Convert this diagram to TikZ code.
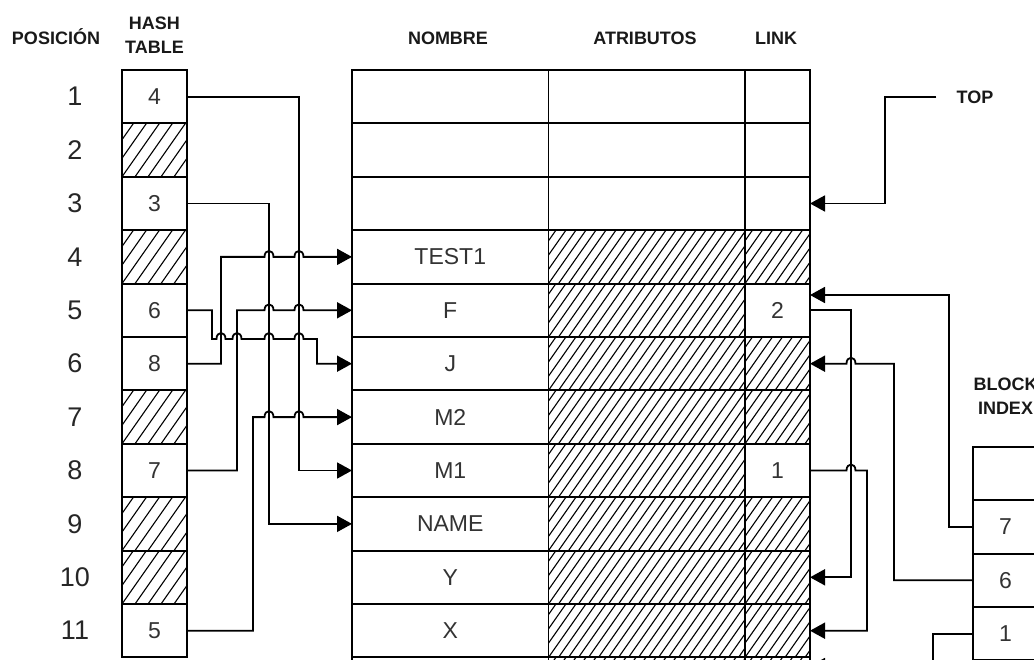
\documentclass[tikz,border=0pt]{standalone}
\usepackage{fontspec}
\setmainfont{Liberation Sans}
\usetikzlibrary{arrows.meta}
\usetikzlibrary{positioning,calc}

\tikzset{
  celda/.style={draw, line width=1.9pt, inner sep=0pt, outer sep=0pt, minimum height=53.4pt, font=\fontsize{23}{25}\selectfont, text=black!80},
  angosta/.style={celda, minimum width=65pt},
  ancha/.style={celda, minimum width=196.5pt},
  rayado/.style={path picture={\foreach \k in {-5,...,22} \draw[line width=1.1pt] ([xshift=\k*#1]path picture bounding box.south west) -- ++(57.4,-81.9);}},
  titulo/.style={font=\bfseries\fontsize{18}{24}\selectfont, align=center, inner sep=0pt, text=black!90},
  posic/.style={font=\fontsize{27}{30}\selectfont, inner sep=0pt, text=black!85},
  flecha/.style={line width=1.8pt, -{Triangle[length=15pt,width=16pt]}},
  flechai/.style={line width=1.8pt, {Triangle[length=15pt,width=16pt]}-}
}
% salto de una linea horizontal sobre una vertical
\newcommand{\salto}[2]{-- ($(#1 |- #2)+(-4.5,0)$) .. controls ($(#1 |- #2)+(-4.5,-8)$) and ($(#1 |- #2)+(4.5,-8)$) .. ($(#1 |- #2)+(4.5,0)$)}

\begin{document}
\begin{tikzpicture}[x=1pt,y=-1pt]
\useasboundingbox (0,0) rectangle (1034,660);
\clip (0,0) rectangle (1034,660);
% encabezados
\node[titulo, anchor=base] (tpos) at (56,44.5) {POSICIÓN}; %etiqueta de posicion
\node[titulo] (thash) at (154.5,35) {HASH\\TABLE}; %etiqueta de la tabla hash
\node[titulo, anchor=base] (tnom) at (448,44.5) {NOMBRE}; %columna nombre
\node[titulo, anchor=base] (tatr) at (645,44.5) {ATRIBUTOS}; %columna atributos
\node[titulo, anchor=base] (tlink) at (776,44.5) {LINK}; %columna link
\node[titulo] (ttop) at (975,97) {TOP}; %etiqueta de top
\node[titulo] (tblock) at (1005.5,396) {BLOCK\\INDEX}; %etiqueta del block index

% tabla hash
\node[angosta] (h1) at (154.5,96.7) {4}; %posicion 1
\node[angosta, rayado=13pt, below=0pt of h1] (h2) {}; %posicion 2
\node[angosta, below=0pt of h2] (h3) {3}; %posicion 3
\node[angosta, rayado=13pt, below=0pt of h3] (h4) {}; %posicion 4
\node[angosta, below=0pt of h4] (h5) {6}; %posicion 5
\node[angosta, below=0pt of h5] (h6) {8}; %posicion 6
\node[angosta, rayado=13pt, below=0pt of h6] (h7) {}; %posicion 7
\node[angosta, below=0pt of h7] (h8) {7}; %posicion 8
\node[angosta, rayado=13pt, below=0pt of h8] (h9) {}; %posicion 9
\node[angosta, rayado=13pt, below=0pt of h9] (h10) {}; %posicion 10
\node[angosta, below=0pt of h10] (h11) {5}; %posicion 11

% numeros de posicion
\coordinate (px) at (75,0);
\node[posic] (p1) at (h1 -| px) {1};
\node[posic] (p2) at (h2 -| px) {2};
\node[posic] (p3) at (h3 -| px) {3};
\node[posic] (p4) at (h4 -| px) {4};
\node[posic] (p5) at (h5 -| px) {5};
\node[posic] (p6) at (h6 -| px) {6};
\node[posic] (p7) at (h7 -| px) {7};
\node[posic] (p8) at (h8 -| px) {8};
\node[posic] (p9) at (h9 -| px) {9};
\node[posic] (p10) at (h10 -| px) {10};
\node[posic] (p11) at (h11 -| px) {11};

% tabla de simbolos
\node[ancha] (n1) at (450.25,96.7) {}; \node[ancha, right=0pt of n1] (a1) {}; \node[angosta, right=0pt of a1] (l1) {}; %fila 1
\node[ancha, below=0pt of n1] (n2) {}; \node[ancha, right=0pt of n2] (a2) {}; \node[angosta, right=0pt of a2] (l2) {}; %fila 2
\node[ancha, below=0pt of n2] (n3) {}; \node[ancha, right=0pt of n3] (a3) {}; \node[angosta, right=0pt of a3] (l3) {}; %fila 3
\node[ancha, below=0pt of n3] (n4) {TEST1}; \node[ancha, rayado=10pt, right=0pt of n4] (a4) {}; \node[angosta, rayado=10pt, right=0pt of a4] (l4) {}; %fila 4
\node[ancha, below=0pt of n4] (n5) {F}; \node[ancha, rayado=10pt, right=0pt of n5] (a5) {}; \node[angosta, right=0pt of a5] (l5) {2}; %fila 5
\node[ancha, below=0pt of n5] (n6) {J}; \node[ancha, rayado=10pt, right=0pt of n6] (a6) {}; \node[angosta, rayado=10pt, right=0pt of a6] (l6) {}; %fila 6
\node[ancha, below=0pt of n6] (n7) {M2}; \node[ancha, rayado=10pt, right=0pt of n7] (a7) {}; \node[angosta, rayado=10pt, right=0pt of a7] (l7) {}; %fila 7
\node[ancha, below=0pt of n7] (n8) {M1}; \node[ancha, rayado=10pt, right=0pt of n8] (a8) {}; \node[angosta, right=0pt of a8] (l8) {1}; %fila 8
\node[ancha, below=0pt of n8] (n9) {NAME}; \node[ancha, rayado=10pt, right=0pt of n9] (a9) {}; \node[angosta, rayado=10pt, right=0pt of a9] (l9) {}; %fila 9
\node[ancha, below=0pt of n9] (n10) {Y}; \node[ancha, rayado=10pt, right=0pt of n10] (a10) {}; \node[angosta, rayado=10pt, right=0pt of a10] (l10) {}; %fila 10
\node[ancha, below=0pt of n10] (n11) {X}; \node[ancha, rayado=10pt, right=0pt of n11] (a11) {}; \node[angosta, rayado=10pt, right=0pt of a11] (l11) {}; %fila 11
\node[ancha, below=0pt of n11] (n12) {}; \node[ancha, rayado=10pt, right=0pt of n12] (a12) {}; \node[angosta, rayado=10pt, right=0pt of a12] (l12) {}; %fila 12

% block index
\node[angosta] (b1) at (1005.5,473.5) {};
\node[angosta, below=0pt of b1] (b2) {7};
\node[angosta, below=0pt of b2] (b3) {6};
\node[angosta, below=0pt of b3] (b4) {1};

% canales verticales
\coordinate (v1) at (299,0); %desde posicion 1
\coordinate (v2) at (269,0); %desde posicion 3
\coordinate (v3) at (221,0); %desde posicion 6
\coordinate (v4) at (237,0); %desde posicion 8
\coordinate (v5) at (253,0); %desde posicion 11
\coordinate (v6) at (212,0); %desde posicion 5
\coordinate (v7) at (317,0); %hacia J
\coordinate (m5) at (0,339);
\coordinate (v8) at (885,0); %top
\coordinate (v9) at (949,0); %block 7
\coordinate (v10) at (851,0); %link 2
\coordinate (v11) at (894,0); %block 6
\coordinate (v12) at (867,0); %link 1
\coordinate (v13) at (933,0); %block 1
\coordinate (m7) at (0,295);
\coordinate (m12) at (0,666);

% flechas de la tabla hash
\draw[flecha] (h1.east) -| (v1 |- n8) -- (n8.west); %1 a M1
\draw[flecha] (h3.east) -| (v2 |- n9) -- (n9.west); %3 a NAME
\draw[flecha] (h6.east) -| (v3 |- n4) \salto{v2}{n4} \salto{v1}{n4} -- (n4.west); %6 a TEST1
\draw[flecha] (h8.east) -| (v4 |- n5) \salto{v2}{n5} \salto{v1}{n5} -- (n5.west); %8 a F
\draw[flecha] (h5.east) -| (v6 |- m5) \salto{v3}{m5} \salto{v4}{m5} \salto{v2}{m5} \salto{v1}{m5} -| (v7 |- n6) -- (n6.west); %5 a J
\draw[flecha] (h11.east) -| (v5 |- n7) \salto{v2}{n7} \salto{v1}{n7} -- (n7.west); %11 a M2

% flechas del link
\draw[flecha] ([xshift=-20pt]ttop.west) -| (v8 |- l3) -- (l3.east); %top
\draw[flecha] (b2.west) -| (v9 |- m7) -- (l5.east |- m7); %block 7
\draw[flecha] (l5.east) -| (v10 |- l10) -- (l10.east); %link 2
\draw[flechai] (l6.east) \salto{v10}{l6} -| (v11 |- b3) -- (b3.west); %block 6
\draw[flecha] (l8.east) \salto{v10}{l8} -| (v12 |- l11) -- (l11.east); %link 1
\draw[flecha] (b4.west) -| (v13 |- m12) -- (l12.east |- m12); %block 1
\end{tikzpicture}
\end{document}
